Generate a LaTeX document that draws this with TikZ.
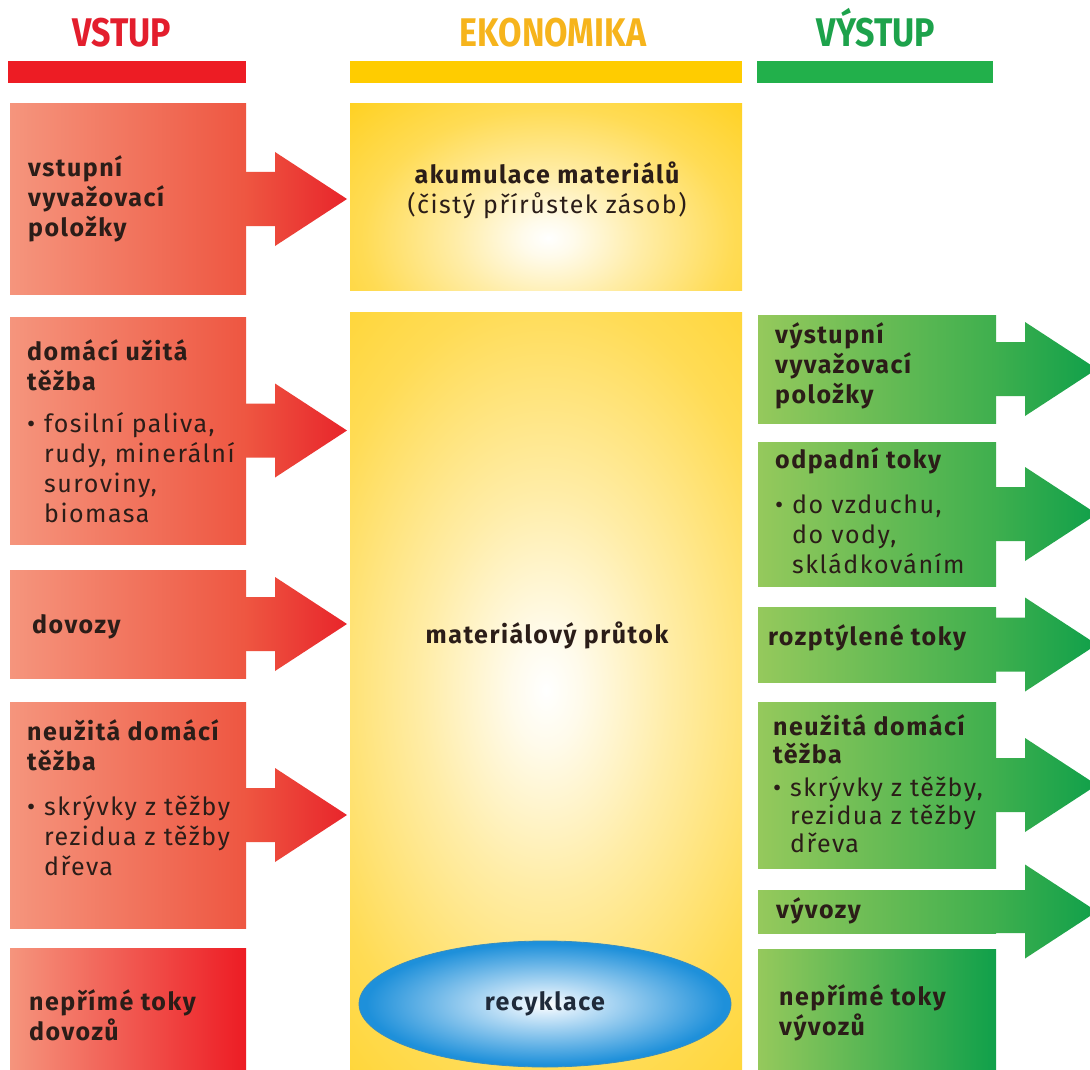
\documentclass[tikz,border=0pt]{standalone}
\usepackage{fontspec}
\setmainfont{Fira Sans}[LetterSpace=6]
\newfontfamily\hdfont{Fira Sans}[FakeStretch=0.85]
\usetikzlibrary{shapes.geometric,calc}
\definecolor{ink}{HTML}{2B1D18}
\definecolor{hred}{HTML}{E31E2D}
\definecolor{hyel}{HTML}{F6B41C}
\definecolor{hgrn}{HTML}{1DA24B}
\definecolor{barred}{HTML}{ED1C24}
\definecolor{baryel}{HTML}{FFCC00}
\definecolor{bargrn}{HTML}{22B04B}
\definecolor{rl}{HTML}{F5957D}
\definecolor{rm}{HTML}{EE5641}
\definecolor{rr}{HTML}{E8252B}
\definecolor{gl}{HTML}{95C95C}
\definecolor{gm}{HTML}{3EAF4E}
\definecolor{gr}{HTML}{10A04A}
\definecolor{ygold}{HTML}{FFCB05}
\definecolor{bmain}{HTML}{1E90DA}
\definecolor{blite}{HTML}{D6EBFA}
\definecolor{bedge}{HTML}{3A8EBD}
\definecolor{rectxt}{HTML}{1F2A3A}
\pgfdeclareradialshading{yglow}{\pgfpointorigin}{color(0bp)=(white); color(2bp)=(ygold!8); color(7bp)=(ygold!35); color(14bp)=(ygold!68); color(25bp)=(ygold); color(50bp)=(ygold)}
\pgfdeclareradialshading{bglow}{\pgfpointorigin}{color(0bp)=(white); color(4bp)=(blite); color(24bp)=(bmain); color(50bp)=(bmain)}
\newcommand\myline[1]{\hbox{#1}}
\newcommand\mybul[1]{\hbox{\makebox[17pt][l]{•}#1}}
\newcommand\mycont[1]{\hbox{\hspace*{17pt}#1}}
\newcommand\ctrline[1]{\hbox to 380pt{\hss#1\hss}}
\newcommand\flowarrow[5]{%
  \shade[left color=#4,right color=#5]
    ([xshift=-0.5pt,yshift=#2pt]#1.east) -- ++({#3+0.5},0) -- ++(0,{-(47-#2)})
    -- ++(72,47) -- ++(-72,47) -- ++(0,{-(47-#2)}) -- ++({-#3-0.5},0) -- cycle;}
\tikzset{
  box/.style={rectangle, inner sep=0pt, outer sep=0pt},
  redbox/.style={box, left color=rl, right color=rm, minimum width=236pt},
  grnbox/.style={box, left color=gl, right color=gm, minimum width=238pt},
  yelbox/.style={box, fill=ygold, minimum width=392pt},
  bar/.style={box, minimum height=22pt},
  hdr/.style={anchor=base, inner sep=0pt, font=\hdfont\bfseries\fontsize{40}{40}\selectfont},
  txt/.style={anchor=base west, inner sep=0pt, text=ink, font=\fontsize{25}{30}\selectfont},
  ctxt/.style={anchor=base, inner sep=0pt, text=ink, font=\fontsize{25}{30}\selectfont},
}
\begin{document}
\begin{tikzpicture}[x=1pt,y=-1pt]
\useasboundingbox (0,0) rectangle (1090,1070);
\clip (0,0) rectangle (1090,1070);
\fill[white] (0,0) rectangle (1090,1070);
% headers
\node[hdr, text=hred] (h1) at (122,47) {VSTUP};
\node[hdr, text=hyel] (h2) at (553,47) {EKONOMIKA};
\node[hdr, text=hgrn] (h3) at (876,47) {VÝSTUP};
\node[bar, fill=barred, minimum width=238pt] (b1) at (127,72) {};
\node[bar, fill=baryel, minimum width=392pt] (b2) at (546,72) {};
\node[bar, fill=bargrn, minimum width=236pt] (b3) at (875,72) {};
% economy column
\node[yelbox, minimum height=186pt] (y1) at (546,197) {};
\node[yelbox, minimum height=763pt] (y2) at (546,693.5) {};
\begin{scope}
\clip (y1.north west) rectangle (y1.south east);
\shade[shading=yglow] (548,238) ellipse [x radius=330pt, y radius=230pt];
\end{scope}
\begin{scope}
\clip (y2.north west) rectangle (y2.south east);
\shade[shading=yglow] (546,690) ellipse [x radius=440pt, y radius=700pt];
\end{scope}
% input boxes
\node[redbox, minimum height=190pt] (r1) at (128,199) {};
\node[redbox, minimum height=227pt] (r2) at (128,430.5) {};
\node[redbox, minimum height=108pt] (r3) at (128,624) {};
\node[redbox, minimum height=226pt] (r4) at (128,815) {};
\node[redbox, right color=barred, minimum height=127pt] (r5) at (128,1011.5) {};
\flowarrow{r1}{27}{29}{rm}{rr}
\flowarrow{r2}{27}{29}{rm}{rr}
\flowarrow{r3}{27}{29}{rm}{rr}
\flowarrow{r4}{27}{29}{rm}{rr}
% output boxes
\node[grnbox, minimum height=108pt] (g1) at (877,369) {};
\node[grnbox, minimum height=144pt] (g2) at (877,514) {};
\node[grnbox, minimum height=75pt] (g3) at (877,644.5) {};
\node[grnbox, minimum height=166pt] (g4) at (877,785) {};
\node[grnbox, minimum height=43pt] (g5) at (877,911.5) {};
\node[grnbox, right color=gr, minimum height=126pt] (g6) at (877,1012) {};
\flowarrow{g1}{27}{29}{gm}{gr}
\flowarrow{g2}{27}{29}{gm}{gr}
\flowarrow{g3}{27}{29}{gm}{gr}
\flowarrow{g4}{27}{29}{gm}{gr}
\flowarrow{g5}{21.5}{29}{gm}{gr}
% recycling
\node[ellipse, inner sep=0pt, minimum width=372pt, minimum height=126pt, shading=bglow, draw=bedge, line width=0.8pt, text=rectxt, font=\bfseries\fontsize{25}{30}\selectfont] (rec) at (545,1004) {recyklace};
% texts
\node[txt] (t1) at (28,176) {\vtop{\bfseries\myline{vstupní}\myline{vyvažovací}\myline{položky}}};
\node[txt] (t2) at (27,360) {\vtop{\myline{\bfseries domácí užitá}\myline{\bfseries těžba}\vskip12pt\mybul{fosilní paliva,}\mycont{rudy, minerální}\mycont{suroviny,}\mycont{biomasa}}};
\node[txt] (t3) at (32,633) {\bfseries dovozy};
\node[txt] (t4) at (27,740) {\vtop{\myline{\bfseries neužitá domácí}\myline{\bfseries těžba}\vskip15pt\mybul{skrývky z těžby}\mycont{rezidua z těžby}\mycont{dřeva}}};
\node[txt] (t5) at (29,1010) {\vtop{\bfseries\myline{nepřímé toky}\myline{dovozů}}};
\node[ctxt] (t6) at (547,183) {\vtop{\ctrline{\bfseries akumulace materiálů}\ctrline{(čistý přírůstek zásob)}}};
\node[ctxt, font=\bfseries\fontsize{25}{30}\selectfont] (t7) at (547,643) {materiálový průtok};
\node[txt] (t8) at (775,343) {\vtop{\bfseries\myline{výstupní}\myline{vyvažovací}\myline{položky}}};
\node[txt] (t9) at (775,468) {\vtop{\myline{\bfseries odpadní toky}\vskip15pt\mybul{do vzduchu,}\mycont{do vody,}\mycont{skládkováním}}};
\node[txt] (t10) at (768,645) {\bfseries rozptýlené toky};
\node[txt] (t11) at (773,735) {\vtop{\baselineskip=28pt\myline{\bfseries neužitá domácí}\myline{\bfseries těžba}\vskip5pt\mybul{skrývky z těžby,}\mycont{rezidua z těžby}\mycont{dřeva}}};
\node[txt] (t12) at (776,918) {\bfseries vývozy};
\node[txt] (t13) at (779,1005) {\vtop{\bfseries\myline{nepřímé toky}\myline{vývozů}}};
\end{tikzpicture}
\end{document}
